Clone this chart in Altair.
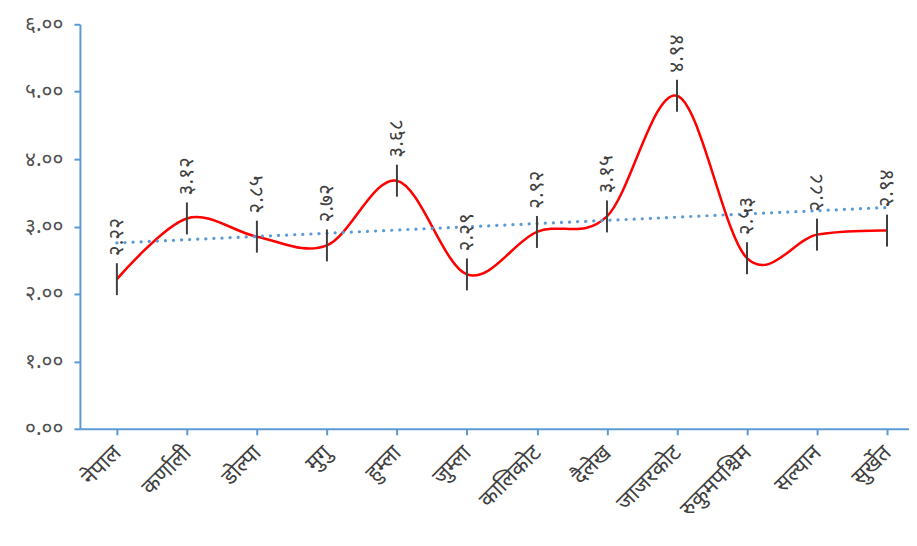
import altair as alt
import pandas as pd

districts = ["नेपाल", "कर्णाली", "डोल्पा", "मुगु", "हुम्ला", "जुम्ला", "कालिकोट",
             "दैलेख", "जाजरकोट", "रुकुमपश्चिम", "सल्यान", "सुर्खेत"]
values = [2.22, 3.12, 2.85, 2.72, 3.68, 2.29, 2.92, 3.15, 4.94, 2.53, 2.88, 2.94]
y_ticks = [0, 1, 2, 3, 4, 5, 6]
y_tick_labels = ["०.००", "१.००", "२.००", "३.००", "४.००", "५.००", "६.००"]

dev = str.maketrans("0123456789", "०१२३४५६७८९")
df = pd.DataFrame({
    "idx": list(range(1, len(districts) + 1)),
    "name": districts,
    "value": values,
    "label": [f"{v:.2f}".translate(dev) for v in values],
})

FONT = "Noto Sans Devanagari, Noto Sans, sans-serif"
AXIS_BLUE = "#5B9BD5"
GREY = "#404040"

x_label_expr = "[" + ",".join(f"'{d}'" for d in districts) + "][datum.value - 1]"
y_label_expr = "[" + ",".join(f"'{t}'" for t in y_tick_labels) + "][datum.value]"

x_enc = alt.X(
    "idx:Q",
    scale=alt.Scale(domain=[0.472, 12.314], nice=False, zero=False),
    axis=alt.Axis(
        values=list(range(1, len(districts) + 1)),
        labelExpr=x_label_expr,
        title=None, grid=False,
        domainColor=AXIS_BLUE, domainWidth=2,
        tickColor=AXIS_BLUE, tickWidth=2, tickSize=6,
        labelAngle=-45, labelAlign="right", labelBaseline="middle",
        labelFont=FONT, labelFontSize=22, labelColor=GREY, labelPadding=14,
        labelOverlap=False,
    ),
)
y_enc = alt.Y(
    "value:Q",
    scale=alt.Scale(domain=[0, 6], nice=False),
    axis=alt.Axis(
        values=y_ticks,
        labelExpr=y_label_expr,
        title=None, grid=False,
        domainColor=AXIS_BLUE, domainWidth=2,
        tickColor=AXIS_BLUE, tickWidth=2, tickSize=6,
        labelFont=FONT, labelFontSize=21, labelColor="#505050", labelPadding=11,
    ),
)

base = alt.Chart(df)

line = base.mark_line(
    color="#FF0000", strokeWidth=2.5, interpolate="cardinal", tension=0
).encode(x=x_enc, y=y_enc)

markers = base.mark_point(
    shape="M0,-1L0,1", size=1024, filled=False, color=GREY, strokeWidth=2, opacity=1
).encode(x=x_enc, y=y_enc)

labels = base.mark_text(
    angle=270, align="left", baseline="middle", dx=23,
    font=FONT, fontSize=21, color=GREY
).encode(x=x_enc, y=y_enc, text="label:N")

trend = base.transform_regression(
    "idx", "value", method="linear", extent=[1, 12]
).mark_line(
    color=AXIS_BLUE, strokeWidth=3.2, strokeDash=[0.1, 8], strokeCap="round"
).encode(x=x_enc, y=y_enc)

chart = alt.layer(line, trend, markers, labels).properties(
    width=830, height=405,
    background="white",
    padding={"left": 16, "top": 5, "right": 0, "bottom": 0},
).configure_view(strokeWidth=0, stroke="transparent")

chart.save("out.html", embed_options={"renderer": "svg", "actions": False})
